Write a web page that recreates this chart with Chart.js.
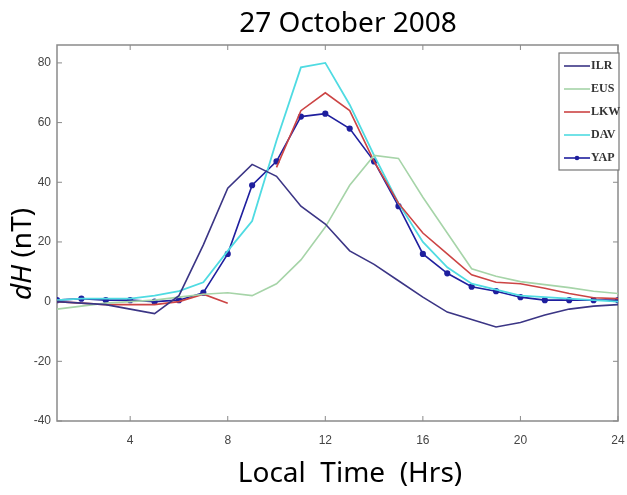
<!DOCTYPE html>
<html>
<head>
    <title>27 October 2008</title>
    <script src="https://cdn.jsdelivr.net/npm/chart.js"></script>
    <style>
        html, body { margin: 0; padding: 0; background: #fff; }
        #wrap { width: 627px; height: 495px; }
    </style>
</head>
<body>
    <div id="wrap"><canvas id="dhChart" width="627" height="495"></canvas></div>
    <script>
        // local time (hrs) and dH (nT) per station
        const hours = [1, 2, 3, 4, 5, 6, 7, 8, 9, 10, 11, 12, 13, 14, 15, 16, 17, 18, 19, 20, 21, 22, 23, 24];
        const ilr = [0, -0.5, -1, -2.5, -4, 2, 19, 38, 46, 42, 32, 26, 17, 12.5, 7, 1.5, -3.5, -6, -8.5, -7, -4.5, -2.5, -1.5, -1];
        const eus = [-2.5, -1.5, -0.5, 0, 0.5, 1.5, 2.5, 3, 2, 6, 14, 25, 39, 49, 48, 35, 23, 11, 8.5, 6.7, 5.7, 4.7, 3.5, 2.7];
        const lkw = [0, -0.5, -1, -1, -1, 0, 2.5, -0.5, null, 45, 64, 70, 64, 47, 33, 23, 16, 9, 6.5, 6, 4.5, 2.7, 1.3, 1];
        const dav = [0.5, 1, 1, 1, 2, 3.5, 6.5, 17, 27, 54, 78.5, 80, 66, 49, 33, 20, 11.5, 6, 4, 2, 1.5, 1, 0.5, 0];
        const yap = [0.5, 1, 0.5, 0.5, 0, 0.5, 3, 16, 39, 47, 62, 63, 58, 47, 32, 16, 9.5, 5, 3.5, 1.5, 0.5, 0.5, 0.5, 0.5];

        const xTicks = [4, 8, 12, 16, 20, 24];
        const yTicks = [-40, -20, 0, 20, 40, 60, 80];
        const stations = ['ILR', 'EUS', 'LKW', 'DAV', 'YAP'];

        const toPoints = arr => arr.map((v, i) => ({ x: hours[i], y: v }));

        const textFont = '"Noto Sans", sans-serif';

        // box, inward ticks, titles and the legend, MATLAB style
        const framePlugin = {
            id: 'frame',
            beforeDatasetsDraw(chart) {
                const { ctx, chartArea: a, scales } = chart;
                ctx.save();
                ctx.strokeStyle = '#8a8a8a';
                ctx.lineWidth = 1.5;
                ctx.strokeRect(a.left, a.top, a.right - a.left, a.bottom - a.top);
                ctx.lineWidth = 1;
                ctx.beginPath();
                scales.x.ticks.forEach(t => {
                    const px = scales.x.getPixelForValue(t.value);
                    ctx.moveTo(px, a.bottom); ctx.lineTo(px, a.bottom - 5);
                    ctx.moveTo(px, a.top); ctx.lineTo(px, a.top + 5);
                });
                scales.y.ticks.forEach(t => {
                    const py = scales.y.getPixelForValue(t.value);
                    ctx.moveTo(a.left, py); ctx.lineTo(a.left + 5, py);
                    ctx.moveTo(a.right, py); ctx.lineTo(a.right - 5, py);
                });
                ctx.stroke();
                ctx.restore();
            },
            afterDraw(chart) {
                const { ctx } = chart;
                ctx.save();
                ctx.fillStyle = '#000';
                ctx.textBaseline = 'middle';
                ctx.textAlign = 'center';
                ctx.font = '28px ' + textFont;
                ctx.fillText('27 October 2008', 348, 24);
                ctx.fillText('Local  Time  (Hrs)', 350, 474);

                // y title: italic dH, upright (nT)
                ctx.translate(23, 254);
                ctx.rotate(-Math.PI / 2);
                ctx.textAlign = 'left';
                ctx.font = 'italic 28px ' + textFont;
                const w1 = ctx.measureText('dH').width;
                ctx.font = '28px ' + textFont;
                const w2 = ctx.measureText(' (nT)').width;
                const start = -(w1 + w2) / 2;
                ctx.font = 'italic 28px ' + textFont;
                ctx.fillText('dH', start, 0);
                ctx.font = '28px ' + textFont;
                ctx.fillText(' (nT)', start + w1, 0);
                ctx.restore();

                // legend box
                ctx.save();
                const bx = 559, by = 53, bw = 60, bh = 117;
                ctx.fillStyle = '#fff';
                ctx.fillRect(bx, by, bw, bh);
                ctx.strokeStyle = '#777';
                ctx.lineWidth = 1.2;
                ctx.strokeRect(bx, by, bw, bh);
                ctx.font = 'bold 12px "Liberation Serif", serif';
                ctx.textBaseline = 'middle';
                chart.data.datasets.forEach((ds, i) => {
                    const y = by + 13 + i * 23;
                    ctx.strokeStyle = ds.borderColor;
                    ctx.lineWidth = 1.6;
                    ctx.beginPath();
                    ctx.moveTo(bx + 5, y); ctx.lineTo(bx + 31, y);
                    ctx.stroke();
                    if (ds.pointRadius > 0) {
                        ctx.fillStyle = ds.borderColor;
                        ctx.beginPath();
                        ctx.arc(bx + 18, y, 2.3, 0, Math.PI * 2);
                        ctx.fill();
                    }
                    ctx.fillStyle = '#333';
                    ctx.fillText(ds.label, bx + 32, y);
                });
                ctx.restore();
            }
        };

        const tickFont = { family: '"Liberation Sans Narrow", "Liberation Sans", sans-serif', size: 12 };

        new Chart(document.getElementById('dhChart').getContext('2d'), {
            type: 'line',
            data: {
                datasets: [{
                    label: stations[0], data: toPoints(ilr),
                    borderColor: '#3b3585', borderWidth: 1.6, pointRadius: 0
                }, {
                    label: stations[1], data: toPoints(eus),
                    borderColor: '#a6d4a8', borderWidth: 1.6, pointRadius: 0
                }, {
                    label: stations[2], data: toPoints(lkw),
                    borderColor: '#cc4444', borderWidth: 1.6, pointRadius: 0, spanGaps: false
                }, {
                    label: stations[3], data: toPoints(dav),
                    borderColor: '#4fdbe2', borderWidth: 1.8, pointRadius: 0
                }, {
                    label: stations[4], data: toPoints(yap),
                    borderColor: '#1f1f9e', backgroundColor: '#1f1f9e', borderWidth: 1.6,
                    pointRadius: 2.3, pointStyle: 'circle'
                }]
            },
            options: {
                responsive: false,
                animation: false,
                layout: { padding: { top: 45, right: 9, left: 0, bottom: 0 } },
                plugins: { legend: { display: false }, title: { display: false }, tooltip: { enabled: false } },
                elements: { line: { tension: 0 } },
                scales: {
                    x: {
                        type: 'linear', min: 1, max: 24,
                        afterBuildTicks: s => { s.ticks = xTicks.map(v => ({ value: v })); },
                        afterFit: s => { s.height = 74; s.paddingLeft = 0; s.paddingRight = 0; },
                        grid: { display: false, drawTicks: false },
                        border: { display: false },
                        ticks: { color: '#444', font: tickFont, padding: 12 }
                    },
                    y: {
                        min: -40, max: 86,
                        afterBuildTicks: s => { s.ticks = yTicks.map(v => ({ value: v })); },
                        afterFit: s => { s.width = 57; },
                        grid: { display: false, drawTicks: false },
                        border: { display: false },
                        ticks: { color: '#444', font: tickFont, padding: 6 }
                    }
                }
            },
            plugins: [framePlugin]
        });
    </script>
</body>
</html>
